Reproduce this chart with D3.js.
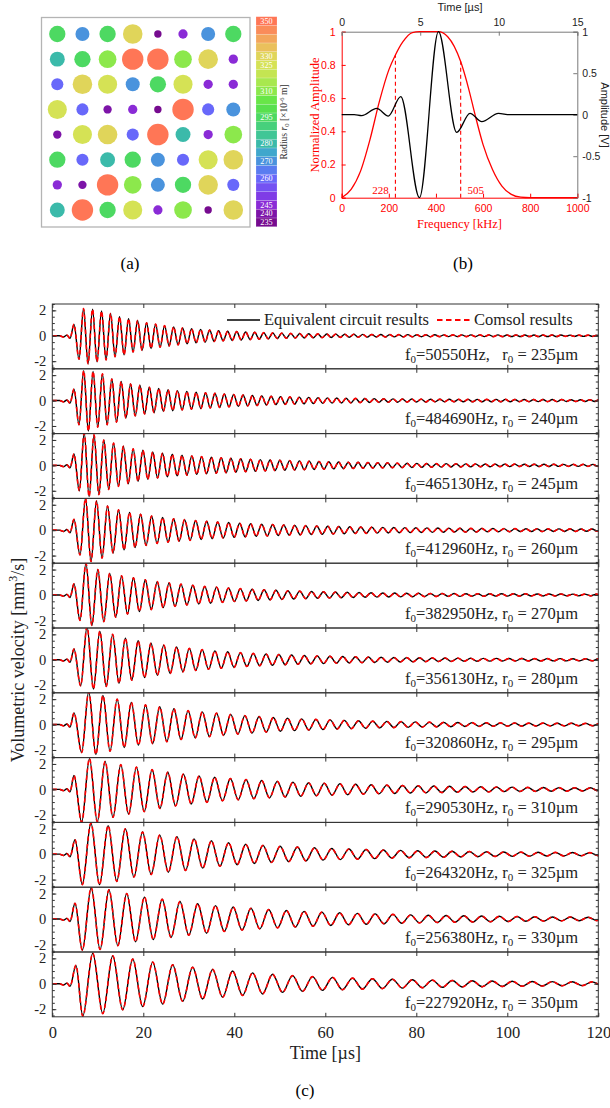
<!DOCTYPE html>
<html><head><meta charset="utf-8">
<script src="https://cdn.jsdelivr.net/npm/d3@7"></script>
<style>body{margin:0;background:#fff}svg{display:block}</style>
</head><body>
<svg id="chart" width="610" height="1108"></svg>
<script>
// ================= DATA =================
// ---- panel (a): radius levels of the colour bar and the 8x8 grid ----
const radiusLevels = [235,240,245,250,255,260,265,270,275,280,285,290,295,300,305,310,315,320,325,330,335,340,345,350];
const levelColors = ["#760b8f","#7d14a8","#8a2bd6","#7f3ce6","#7452f2","#6868fa","#5a7cf0","#4a93dd","#40a7cc","#3bbaaa","#40c696","#47d07c","#4dd962","#58e04e","#68e648","#8ce84c","#a8e84f","#c4e552","#d5e255","#e0d55a","#eac05c","#f3a65c","#fa8c5a","#ff7656"];
const labeledRadii = [235,240,245,260,270,280,295,310,325,330,350];
const gridRow1 = [295,270,295,330,235,245,270,295];
const gridRow2 = [280,295,310,350,350,310,330,245];
const gridRow3 = [260,330,325,270,295,325,245,245];
const gridRow4 = [325,260,240,245,235,350,260,270];
const gridRow5 = [240,325,330,260,350,280,245,310];
const gridRow6 = [295,260,280,295,270,260,325,330];
const gridRow7 = [245,240,350,310,270,295,330,260];
const gridRow8 = [280,350,295,325,245,310,235,330];

// ---- panel (b): excitation spectrum and time pulse ----
const specFreq = [0,40,80,120,160,200,228,260,300,330,410,450,505,540,566,600,640,680,720,760,800,1000];
const specAmp  = [0,0.05,0.16,0.35,0.58,0.77,0.86,0.94,0.995,1,1,0.97,0.82,0.65,0.5,0.32,0.17,0.07,0.02,0.003,0,0];
const pulseTime = [0,0.8,1.27,2.23,2.97,3.76,4.95,6.16,7.32,8.17,8.92,9.98,10.7,15];
const pulseAmp  = [0,0,-0.012,0.076,-0.016,0.217,-1,1,-0.213,0.016,-0.084,0.016,0,0];
const markerFreq = [228,505];
const markerTop  = [0.86,0.82];

// ---- panel (c): volumetric velocity responses ----
const f0Labels = ["50550Hz,   ","484690Hz, ","465130Hz, ","412960Hz, ","382950Hz, ","356130Hz, ","320860Hz, ","290530Hz, ","264320Hz, ","256380Hz, ","227920Hz, "];
const r0Values = [235,240,245,260,270,280,295,310,325,330,350];
const periodUs = [1.98,2.06,2.15,2.42,2.61,2.81,3.12,3.44,3.78,3.90,4.39];
const preT = [0,1.6,2.5,3.2,3.9];
const preV = [0,0,-0.1,0.05,-0.2];
const firstPeakT = [4.77,4.77,4.77,4.77,4.77,4.77,4.77,4.77,4.99,4.99,5.2];
const firstPeakV = [0.9,0.9,0.9,0.85,0.87,0.85,0.92,1.1,1.13,1.24,1.45];
const troughT = [5.87,5.87,5.94,6.09,6.09,6.23,6.45,6.45,6.6,6.6,6.7];
// magnitudes of successive extrema (trough, peak, trough, ...) after the first peak
const ring1 = [1.85,2.15,2.2,2.1,2.05,1.95,1.9,1.75,1.65,1.5, 1.5,1.35,1.28,1.2,1.15,1.02,1.0,0.92,0.9,0.8, 0.8,0.7,0.72,0.62,0.63,0.55,0.56,0.5,0.5,0.45, 0.45,0.4,0.4,0.36,0.37,0.33,0.33,0.3,0.3,0.28, 0.27,0.25,0.24,0.23,0.22,0.21,0.2,0.19,0.18,0.18, 0.17,0.16,0.16,0.15,0.15,0.14,0.14,0.13,0.13,0.12, 0.12,0.12,0.11,0.11,0.11,0.1,0.1,0.1,0.1,0.09, 0.09,0.09,0.09,0.09,0.08,0.08,0.08,0.08,0.08,0.08, 0.07,0.07,0.07,0.07,0.07,0.07,0.07,0.07,0.07,0.07, 0.07,0.07,0.07,0.07,0.07,0.06,0.06,0.06,0.06,0.06, 0.06,0.06,0.06,0.06,0.06,0.06,0.06,0.06,0.05,0.05, 0.05,0.05,0.05,0.05,0.05,0.05,0.05,0.05];
const ring2 = [1.9,2.35,2.4,2.3,2.1,2.1,1.9,1.7,1.7,1.5, 1.37,1.3,1.2,1.2,1.05,1.05,0.95,0.95,0.85,0.85, 0.8,0.78,0.74,0.72,0.68,0.66,0.63,0.62,0.58,0.57, 0.54,0.52,0.5,0.48,0.46,0.44,0.42,0.4,0.39,0.37, 0.35,0.34,0.32,0.31,0.3,0.29,0.28,0.27,0.26,0.25, 0.24,0.23,0.22,0.21,0.2,0.2,0.19,0.18,0.18,0.17, 0.16,0.16,0.15,0.15,0.14,0.14,0.13,0.13,0.13,0.12, 0.12,0.12,0.11,0.11,0.11,0.1,0.1,0.1,0.1,0.1, 0.09,0.09,0.09,0.09,0.09,0.09,0.09,0.09,0.09,0.09, 0.09,0.09,0.09,0.08,0.08,0.08,0.08,0.08,0.08,0.08, 0.08,0.08,0.08,0.08,0.07,0.07,0.07,0.07,0.07,0.07,0.07,0.07,0.07];
const ring3 = [2.0,2.55,2.45,2.4,2.3,2.0,1.9,1.75,1.65,1.5, 1.45,1.3,1.25,1.2,1.1,1.05,1.0,0.95,0.9,0.87, 0.83,0.8,0.77,0.74,0.71,0.69,0.66,0.64,0.62,0.6, 0.58,0.56,0.54,0.52,0.5,0.48,0.47,0.45,0.44,0.42, 0.41,0.4,0.38,0.37,0.36,0.35,0.34,0.33,0.32,0.31, 0.3,0.29,0.28,0.27,0.26,0.25,0.25,0.24,0.23,0.22, 0.22,0.21,0.2,0.2,0.19,0.18,0.18,0.17,0.17,0.16, 0.16,0.15,0.15,0.14,0.14,0.14,0.13,0.13,0.13,0.12, 0.12,0.12,0.11,0.11,0.11,0.1,0.1,0.1,0.1,0.1, 0.09,0.09,0.09,0.09,0.09,0.09,0.09,0.09,0.08,0.08, 0.08,0.08,0.08,0.08,0.08,0.08,0.08,0.08,0.08];
const ring4 = [1.95,2.5,2.47,2.3,2.2,1.9,1.8,1.6,1.55,1.4, 1.37,1.25,1.2,1.12,1.05,1.0,0.95,0.9,0.87,0.83, 0.8,0.76,0.73,0.7,0.67,0.64,0.62,0.6,0.57,0.55, 0.53,0.51,0.49,0.47,0.46,0.44,0.42,0.41,0.4,0.38, 0.37,0.36,0.34,0.33,0.32,0.31,0.3,0.29,0.28,0.27, 0.26,0.25,0.25,0.24,0.23,0.22,0.22,0.21,0.2,0.2, 0.19,0.19,0.18,0.18,0.17,0.17,0.16,0.16,0.15,0.15, 0.15,0.14,0.14,0.14,0.13,0.13,0.13,0.12,0.12,0.12, 0.11,0.11,0.11,0.11,0.11,0.1,0.1,0.1,0.1,0.1, 0.1,0.09,0.09,0.09,0.09,0.09,0.09];
const ring5 = [2.0,2.5,2.4,2.0,2.1,1.7,1.75,1.5,1.5,1.35, 1.3,1.2,1.15,1.05,1.0,0.95,0.9,0.85,0.8,0.76, 0.72,0.68,0.65,0.62,0.58,0.55,0.52,0.5,0.47,0.45, 0.43,0.41,0.39,0.37,0.35,0.33,0.32,0.3,0.29,0.27, 0.26,0.25,0.24,0.23,0.22,0.21,0.2,0.19,0.18,0.18, 0.17,0.16,0.16,0.15,0.15,0.14,0.14,0.13,0.13,0.12, 0.12,0.12,0.11,0.11,0.11,0.1,0.1,0.1,0.1,0.09, 0.09,0.09,0.09,0.09,0.09,0.09,0.08,0.08,0.08,0.08, 0.08,0.08,0.07,0.07,0.07,0.07,0.07,0.07,0.07,0.07];
const ring6 = [2.05,2.6,2.3,2.25,2.1,2.0,1.85,1.7,1.6,1.5, 1.4,1.3,1.22,1.15,1.08,1.0,0.95,0.9,0.84,0.8, 0.75,0.7,0.67,0.63,0.6,0.56,0.53,0.5,0.47,0.45, 0.43,0.41,0.39,0.37,0.35,0.34,0.32,0.31,0.3,0.28, 0.27,0.26,0.25,0.24,0.23,0.22,0.21,0.2,0.19,0.18, 0.18,0.17,0.16,0.16,0.15,0.15,0.14,0.14,0.13,0.13, 0.12,0.12,0.12,0.11,0.11,0.11,0.1,0.1,0.1,0.1, 0.09,0.09,0.09,0.09,0.09,0.09,0.09,0.08,0.08,0.08,0.08,0.08,0.08,0.08];
const ring7 = [2.2,2.6,2.35,2.3,2.1,2.0,1.8,1.75,1.62,1.55, 1.5,1.4,1.35,1.25,1.18,1.1,1.05,1.0,0.95,0.9, 0.85,0.8,0.75,0.7,0.67,0.63,0.6,0.56,0.53,0.5, 0.48,0.45,0.43,0.41,0.39,0.37,0.35,0.33,0.32,0.3, 0.29,0.27,0.26,0.25,0.24,0.23,0.22,0.21,0.2,0.19, 0.18,0.17,0.17,0.16,0.15,0.15,0.14,0.14,0.13,0.13, 0.12,0.12,0.12,0.11,0.11,0.11,0.1,0.1,0.1,0.1,0.09,0.09,0.09,0.09,0.09];
const ring8 = [2.6,2.42,2.55,2.2,2.2,1.95,1.95,1.75,1.75,1.55, 1.5,1.35,1.3,1.2,1.15,1.05,1.02,0.95,0.9,0.85, 0.82,0.78,0.74,0.7,0.67,0.63,0.6,0.57,0.54,0.52, 0.5,0.48,0.46,0.44,0.42,0.4,0.38,0.36,0.35,0.33, 0.32,0.3,0.29,0.28,0.27,0.26,0.25,0.24,0.23,0.22, 0.21,0.2,0.2,0.19,0.18,0.18,0.17,0.16,0.16,0.15, 0.15,0.14,0.14,0.13,0.13,0.13,0.12,0.12,0.12];
const ring9 = [2.4,2.45,2.4,2.25,2.15,2.0,1.8,1.75,1.6,1.5, 1.42,1.38,1.28,1.2,1.1,1.05,0.95,0.9,0.83,0.78, 0.73,0.69,0.65,0.62,0.59,0.56,0.53,0.5,0.47,0.45, 0.43,0.41,0.39,0.37,0.35,0.33,0.31,0.3,0.28,0.27, 0.26,0.25,0.24,0.23,0.22,0.21,0.2,0.19,0.18,0.17, 0.17,0.16,0.16,0.15,0.15,0.14,0.14,0.13,0.13,0.12,0.12,0.12];
const ring10 = [2.45,2.47,2.4,2.3,2.1,2.0,1.8,1.72,1.62,1.55, 1.45,1.38,1.28,1.2,1.12,1.05,0.98,0.94,0.88,0.84, 0.78,0.75,0.7,0.67,0.63,0.6,0.57,0.54,0.51,0.49, 0.46,0.44,0.42,0.4,0.38,0.36,0.34,0.32,0.31,0.29, 0.28,0.27,0.26,0.25,0.24,0.23,0.22,0.21,0.2,0.19, 0.18,0.17,0.17,0.16,0.15,0.15,0.14,0.14,0.13,0.13,0.12];
const ring11 = [2.55,2.4,2.35,2.2,2.05,1.95,1.8,1.7,1.6,1.5, 1.38,1.3,1.2,1.13,1.06,1.0,0.92,0.86,0.8,0.75, 0.68,0.64,0.6,0.56,0.52,0.5,0.47,0.44,0.42,0.4, 0.38,0.36,0.34,0.32,0.31,0.29,0.28,0.26,0.25,0.24, 0.23,0.22,0.21,0.2,0.19,0.18,0.18,0.17,0.16,0.16,0.15,0.15,0.14,0.14];
const rings = [ring1,ring2,ring3,ring4,ring5,ring6,ring7,ring8,ring9,ring10,ring11];
const yTicksMajor = [-2,0,2];
const xTicks = [0,20,40,60,80,100,120];

// ================= DRAWING =================
const SERIF = "'Liberation Serif','Times New Roman',serif";
const SANS  = "'Liberation Sans',Arial,sans-serif";
const svg = d3.select("#chart");
const RED = "#ff0000";

// ---------- (a) ----------
const gA = svg.append("g");
gA.append("rect").attr("x",41.5).attr("y",17.5).attr("width",208.5).attr("height",209.5)
  .attr("fill","#fff").attr("stroke","#b4b4b4").attr("stroke-width",1.3);
const gxS = d3.scalePoint().domain(d3.range(8)).range([57.3,233.3]);
const gyS = d3.scalePoint().domain(d3.range(8)).range([34,210]);
const rS = d3.scaleLinear().domain([235,270,350]).range([3.7,7,10.7]);
const colS = d3.scaleOrdinal().domain(radiusLevels).range(levelColors);
const gridRows = [gridRow1,gridRow2,gridRow3,gridRow4,gridRow5,gridRow6,gridRow7,gridRow8];
const cells = [];
gridRows.forEach((row,ri)=>row.forEach((r,ci)=>cells.push({ri,ci,r})));
gA.selectAll("circle").data(cells).join("circle")
  .attr("cx",d=>gxS(d.ci)).attr("cy",d=>gyS(d.ri)).attr("r",d=>rS(d.r)).attr("fill",d=>colS(d.r));
// colour bar
const cbY = d3.scaleBand().domain(radiusLevels.slice().reverse()).range([16.7,226.7]);
gA.selectAll("rect.cb").data(radiusLevels).join("rect").attr("class","cb")
  .attr("x",256).attr("width",21).attr("y",d=>cbY(d)).attr("height",cbY.bandwidth())
  .attr("fill",d=>colS(d)).attr("stroke","rgba(255,255,255,0.35)").attr("stroke-width",0.5);
gA.selectAll("text.cbl").data(labeledRadii).join("text").attr("class","cbl")
  .attr("x",266.5).attr("y",d=>cbY(d)+cbY.bandwidth()/2+2.9).attr("text-anchor","middle")
  .attr("font-family",SERIF).attr("font-size",8.2).attr("fill","#fff").text(d=>d);
const cbTitle = gA.append("text").attr("transform","translate(287,122) rotate(-90)")
  .attr("text-anchor","middle").attr("font-family",SERIF).attr("font-size",9.6).attr("fill","#333");
cbTitle.append("tspan").text("Radius ");
cbTitle.append("tspan").attr("font-style","italic").text("r");
cbTitle.append("tspan").attr("font-size",6.5).attr("dy",2).text("0");
cbTitle.append("tspan").attr("dy",-2).text(" [×10");
cbTitle.append("tspan").attr("font-size",6.5).attr("dy",-3.5).text("-6");
cbTitle.append("tspan").attr("dy",3.5).text(" m]");
svg.append("text").attr("x",130).attr("y",269).attr("text-anchor","middle")
  .attr("font-family",SERIF).attr("font-size",17).text("(a)");

// ---------- (b) ----------
const gB = svg.append("g");
const bL = 341.7, bR = 577.3, bT = 31.7, bB = 197.7;
const bx = d3.scaleLinear().domain([0,1000]).range([bL,bR]);
const bt = d3.scaleLinear().domain([0,15]).range([bL,bR]);
const byL = d3.scaleLinear().domain([0,1]).range([bB,bT]);
const byR = d3.scaleLinear().domain([-1,1]).range([bB,bT]);
const axB = gB.append("g").attr("transform",`translate(0,${bB})`)
  .call(d3.axisBottom(bx).tickValues([0,200,400,600,800,1000]).tickSize(-4).tickPadding(7).tickFormat(d=>d));
const axL = gB.append("g").attr("transform",`translate(${bL},0)`)
  .call(d3.axisLeft(byL).tickValues([0,0.2,0.4,0.6,0.8,1]).tickSize(-4).tickPadding(6).tickFormat(d=>String(+d.toFixed(1))));
[axB,axL].forEach(a=>{a.selectAll("path,line").attr("stroke",RED);a.selectAll("text").attr("fill",RED);});
const axT = gB.append("g").attr("transform",`translate(0,${bT})`)
  .call(d3.axisTop(bt).tickValues([0,5,10,15]).tickSize(-4).tickPadding(6));
const axR = gB.append("g").attr("transform",`translate(${bR},0)`)
  .call(d3.axisRight(byR).tickValues([-1,-0.5,0,0.5,1]).tickSize(-4).tickPadding(5).tickFormat(d=>String(d)));
[axT,axR].forEach(a=>{a.selectAll("path,line").attr("stroke","#7a7a7a");a.selectAll("text").attr("fill","#222");});
gB.selectAll(".tick text").attr("font-family",SANS).attr("font-size",10.5);
gB.selectAll(".domain").attr("stroke-width",1);
gB.selectAll("line.mk").data(markerFreq).join("line").attr("class","mk")
  .attr("x1",d=>bx(d)).attr("x2",d=>bx(d)).attr("y1",byL(0)).attr("y2",(d,i)=>byL(markerTop[i]))
  .attr("stroke",RED).attr("stroke-width",1.1).attr("stroke-dasharray","4,3");
gB.selectAll("text.mk").data(markerFreq).join("text").attr("class","mk")
  .attr("x",(d,i)=>bx(d)+(i===0?-15:15)).attr("y",194).attr("text-anchor","middle")
  .attr("font-family",SERIF).attr("font-size",11).attr("fill",RED).text(d=>d);
const specLine = d3.line().x((d,i)=>bx(specFreq[i])).y(d=>byL(d)).curve(d3.curveMonotoneX);
gB.append("path").attr("d",specLine(specAmp)).attr("fill","none").attr("stroke",RED).attr("stroke-width",1.3);
const pulseLine = d3.line().x((d,i)=>bt(pulseTime[i])).y(d=>byR(d)).curve(d3.curveMonotoneX);
gB.append("path").attr("d",pulseLine(pulseAmp)).attr("fill","none").attr("stroke","#000").attr("stroke-width",1.3);
gB.append("text").attr("x",460).attr("y",11).attr("text-anchor","middle").attr("font-family",SANS)
  .attr("font-size",11).attr("fill","#222").text("Time [µs]");
gB.append("text").attr("x",459.5).attr("y",228).attr("text-anchor","middle").attr("font-family",SERIF)
  .attr("font-size",12.5).attr("fill",RED).text("Frequency [kHz]");
gB.append("text").attr("transform","translate(319,115) rotate(-90)").attr("text-anchor","middle")
  .attr("font-family",SERIF).attr("font-size",12.5).attr("fill",RED).text("Normalized Amplitude");
gB.append("text").attr("transform","translate(601,115) rotate(90)").attr("text-anchor","middle")
  .attr("font-family",SANS).attr("font-size",11).attr("fill","#222").text("Amplitude [V]");
svg.append("text").attr("x",463).attr("y",269).attr("text-anchor","middle")
  .attr("font-family",SERIF).attr("font-size",17).text("(b)");

// ---------- (c) ----------
const gC = svg.append("g");
const cL = 52.3, cR = 598.3, cTop = 304, panelH = 64.8;
const cx = d3.scaleLinear().domain([0,120]).range([cL,cR]);
const yMinor = d3.range(-2.5,2.51,0.5);
const defs = svg.append("defs");
rings.forEach((ring,i)=>{
  const top = cTop + i*panelH;
  const y = d3.scaleLinear().domain([-2.6,2.5]).range([top+panelH,top]);
  const g = gC.append("g");
  defs.append("clipPath").attr("id","clip"+i).append("rect")
    .attr("x",cL).attr("y",top).attr("width",cR-cL).attr("height",panelH);
  const pts = preT.map((t,j)=>({t,v:preV[j]}));
  pts.push({t:firstPeakT[i],v:firstPeakV[i]});
  ring.forEach((a,k)=>pts.push({t:troughT[i]+k*periodUs[i]/2, v:(k%2===0?-a:a)}));
  const line = d3.line().x(d=>cx(d.t)).y(d=>y(d.v)).curve(d3.curveMonotoneX);
  const lg = g.append("g").attr("clip-path",`url(#clip${i})`);
  lg.append("path").attr("d",line(pts)).attr("fill","none").attr("stroke","#000").attr("stroke-width",1.4);
  lg.append("path").attr("d",line(pts)).attr("fill","none").attr("stroke",RED).attr("stroke-width",1.6)
    .attr("stroke-dasharray","4.5,3");
  const last = i===rings.length-1;
  g.append("g").attr("class","xb").attr("transform",`translate(0,${top+panelH})`)
    .call(d3.axisBottom(cx).tickValues(xTicks).tickSize(-4).tickPadding(9).tickFormat(last?(d=>d):""));
  g.append("g").attr("transform",`translate(0,${top})`)
    .call(d3.axisTop(cx).tickValues(xTicks).tickSize(-4).tickFormat(""));
  g.append("g").attr("transform",`translate(${cL},0)`)
    .call(d3.axisLeft(y).tickValues(yMinor).tickSize(-2.5).tickFormat(""));
  g.append("g").attr("class","yl").attr("transform",`translate(${cL},0)`)
    .call(d3.axisLeft(y).tickValues(yTicksMajor).tickSize(-4).tickPadding(6).tickFormat(d=>String(d)));
  g.append("g").attr("transform",`translate(${cR},0)`)
    .call(d3.axisRight(y).tickValues(yMinor).tickSize(-2.5).tickFormat(""));
  g.append("g").attr("transform",`translate(${cR},0)`)
    .call(d3.axisRight(y).tickValues(yTicksMajor).tickSize(-4).tickFormat(""));
  g.selectAll(".domain").remove();
  g.selectAll(".tick line").attr("stroke","#333");
  g.selectAll(".tick text").attr("font-family",SERIF).attr("fill","#222");
  g.selectAll(".xb .tick text").attr("font-size",16.5);
  g.selectAll(".yl .tick text").attr("font-size",14.5);
  g.append("rect").attr("x",cL).attr("y",top).attr("width",cR-cL).attr("height",panelH)
    .attr("fill","none").attr("stroke","#333").attr("stroke-width",1);
  const t = g.append("text").attr("x",578).attr("y",top+55.5).attr("text-anchor","end")
    .attr("font-family",SERIF).attr("font-size",16.5).attr("fill","#222").style("white-space","pre");
  t.append("tspan").text("f");
  t.append("tspan").attr("font-size",11).attr("dy",3).text("0");
  t.append("tspan").attr("dy",-3).text("=" + f0Labels[i] + "r");
  t.append("tspan").attr("font-size",11).attr("dy",3).text("0");
  t.append("tspan").attr("dy",-3).text(" = " + r0Values[i] + "µm");
});
// legend
const lgY = 320;
gC.append("line").attr("x1",227).attr("x2",260).attr("y1",lgY).attr("y2",lgY).attr("stroke","#000").attr("stroke-width",1.6);
gC.append("text").attr("x",264).attr("y",lgY+5).attr("font-family",SERIF).attr("font-size",16.5).attr("fill","#222").text("Equivalent circuit results");
gC.append("line").attr("x1",437).attr("x2",471).attr("y1",lgY).attr("y2",lgY).attr("stroke",RED).attr("stroke-width",1.8).attr("stroke-dasharray","5.5,3.5");
gC.append("text").attr("x",474).attr("y",lgY+5).attr("font-family",SERIF).attr("font-size",16.5).attr("fill","#222").text("Comsol results");
gC.append("text").attr("x",(cL+cR)/2).attr("y",1059).attr("text-anchor","middle")
  .attr("font-family",SERIF).attr("font-size",18).attr("fill","#222").text("Time [µs]");
const yt = gC.append("text").attr("transform","translate(24,660) rotate(-90)").attr("text-anchor","middle")
  .attr("font-family",SERIF).attr("font-size",18).attr("fill","#222");
yt.append("tspan").text("Volumetric velocity [mm");
yt.append("tspan").attr("font-size",12).attr("dy",-7).text("3");
yt.append("tspan").attr("dy",7).text("/s]");
svg.append("text").attr("x",305).attr("y",1096).attr("text-anchor","middle")
  .attr("font-family",SERIF).attr("font-size",17).text("(c)");
</script>
</body></html>
